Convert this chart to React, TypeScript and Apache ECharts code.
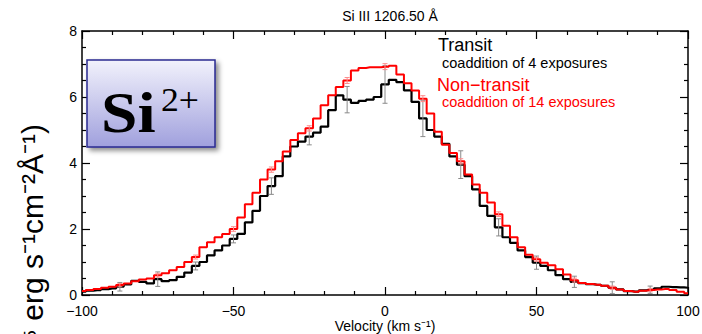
import React, { useEffect, useRef } from "react";
import * as echarts from "echarts";

// Velocity bin centres (km/s)
const velocity = [
  -100, -97.5, -95, -92.5, -90, -87.5, -85, -82.5, -80, -77.5,
  -75, -72.5, -70, -67.5, -65, -62.5, -60, -57.5, -55, -52.5,
  -50, -47.5, -45, -42.5, -40, -37.5, -35, -32.5, -30, -27.5,
  -25, -22.5, -20, -17.5, -15, -12.5, -10, -7.5, -5, -2.5,
  0, 2.5, 5, 7.5, 10, 12.5, 15, 17.5, 20, 22.5,
  25, 27.5, 30, 32.5, 35, 37.5, 40, 42.5, 45, 47.5,
  50, 52.5, 55, 57.5, 60, 62.5, 65, 67.5, 70, 72.5,
  75, 77.5, 80, 82.5, 85, 87.5, 90, 92.5, 95, 97.5, 100,
];

// Transit flux (black)
const transit = [
  0.1, 0.13, 0.15, 0.18, 0.2, 0.25, 0.32, 0.43, 0.4, 0.35,
  0.48, 0.42, 0.45, 0.55, 0.68, 0.88, 1.0, 1.2, 1.35, 1.5,
  1.7, 1.85, 2.2, 2.55, 3.0, 3.3, 3.6, 4.2, 4.5, 4.65,
  4.8, 4.92, 5.1, 5.6, 6.05, 5.92, 5.82, 5.88, 5.92, 6.0,
  6.38, 6.52, 6.45, 6.2, 5.85, 5.35, 5.0, 4.8, 4.58, 4.2,
  3.95, 3.6, 3.2, 2.7, 2.4, 2.05, 1.75, 1.58, 1.35, 1.15,
  0.98, 0.88, 0.75, 0.6, 0.48, 0.4, 0.36, 0.33, 0.31, 0.28,
  0.22, 0.17, 0.12, 0.1, 0.14, 0.16, 0.2, 0.25, 0.24, 0.23, 0.22,
];

// Non-transit flux (red)
const nonTransit = [
  0.12, 0.15, 0.18, 0.22, 0.25, 0.3, 0.35, 0.42, 0.47, 0.5,
  0.6, 0.66, 0.75, 0.85, 1.0, 1.15, 1.45, 1.6, 1.75, 1.85,
  2.0, 2.35, 2.75, 3.1, 3.5, 3.8, 4.05, 4.35, 4.7, 4.9,
  5.05, 5.35, 5.75, 6.05, 6.3, 6.5, 6.8, 6.88, 6.9, 6.9,
  6.92, 6.95, 6.68, 6.42, 6.2, 5.95, 5.5, 4.95, 4.55, 4.3,
  4.05, 3.65, 3.35, 3.1, 2.8, 2.45, 2.1, 1.75, 1.45, 1.22,
  1.08, 0.98, 0.9, 0.78, 0.62, 0.45, 0.36, 0.33, 0.31, 0.28,
  0.22, 0.17, 0.12, 0.1, 0.13, 0.15, 0.17, 0.18, 0.15, 0.1, 0.05,
];

// Error bars (half-widths) at selected bins
const errVelocity = [-87.5, -75, -62.5, -50, -37.5, -25, -12.5, 0, 12.5, 25, 37.5, 50, 62.5, 75, 87.5];
const transitErr = [0.13, 0.22, 0.12, 0.12, 0.25, 0.25, 0.4, 0.57, 0.55, 0.42, 0.26, 0.2, 0.17, 0.18, 0.11];
const nonTransitErr = [0.05, 0.06, 0.06, 0.07, 0.08, 0.08, 0.09, 0.09, 0.09, 0.08, 0.07, 0.06, 0.06, 0.05, 0.05];

const FONT = "'Liberation Sans', Arial, Helvetica, sans-serif";
const SERIF = "'Liberation Serif', 'Times New Roman', serif";

function fmt(v: number) {
  return String(v).replace("-", "\u2212");
}

function errData(values: number[], errs: number[]) {
  return errVelocity.map((v, i) => {
    const c = values[velocity.indexOf(v)];
    return [v, c - errs[i], c + errs[i]];
  });
}

function errSeries(data: number[][], color: string, cap: number, z: number) {
  return {
    type: "custom",
    xAxisIndex: 0,
    yAxisIndex: 0,
    z,
    encode: { x: 0, y: [1, 2] },
    data,
    renderItem: (_p: any, api: any) => {
      const x = api.value(0);
      const a = api.coord([x, api.value(1)]);
      const b = api.coord([x, api.value(2)]);
      const st = { stroke: color, lineWidth: 1 };
      return {
        type: "group",
        children: [
          { type: "line", shape: { x1: a[0], y1: a[1], x2: b[0], y2: b[1] }, style: st },
          { type: "line", shape: { x1: a[0] - cap, y1: a[1], x2: a[0] + cap, y2: a[1] }, style: st },
          { type: "line", shape: { x1: b[0] - cap, y1: b[1], x2: b[0] + cap, y2: b[1] }, style: st },
        ],
      };
    },
  };
}

export default function App() {
  const ref = useRef<HTMLDivElement>(null);
  useEffect(() => {
    const chart = echarts.init(ref.current!, null, { renderer: "svg" });
    const axisCommon = {
      axisLine: { show: true, onZero: false, lineStyle: { color: "#000", width: 1.5 } },
      axisTick: { show: true, inside: true, length: 8, lineStyle: { color: "#000", width: 1.2 } },
      minorTick: { show: true, length: 4, lineStyle: { color: "#000", width: 1.2 } },
      splitLine: { show: false },
    };
    const xBase = { type: "value", min: -100, max: 100, interval: 50, ...axisCommon };
    const yBase = { type: "value", min: 0, max: 8, interval: 2, ...axisCommon };
    chart.setOption({
      animation: false,
      backgroundColor: "#fff",
      title: {
        text: "Si III 1206.50 \u00c5",
        left: 385,
        top: 4,
        textAlign: "center",
        textStyle: { fontFamily: FONT, fontSize: 14, fontWeight: "normal", color: "#000" },
      },
      grid: { left: 82, right: 14, top: 31, bottom: 39, outerBoundsMode: "none", containLabel: false },
      xAxis: [
        {
          ...xBase,
          position: "bottom",
          minorTick: { ...axisCommon.minorTick, splitNumber: 5 },
          axisLabel: { color: "#000", fontFamily: FONT, fontSize: 14, margin: 9, formatter: fmt },
        },
        {
          ...xBase,
          position: "top",
          minorTick: { ...axisCommon.minorTick, splitNumber: 5 },
          axisLabel: { show: false },
        },
      ],
      yAxis: [
        {
          ...yBase,
          position: "left",
          minorTick: { ...axisCommon.minorTick, splitNumber: 4 },
          axisLabel: { color: "#000", fontFamily: FONT, fontSize: 14, margin: 5, formatter: fmt },
        },
        {
          ...yBase,
          position: "right",
          minorTick: { ...axisCommon.minorTick, splitNumber: 4 },
          axisLabel: { show: false },
        },
      ],
      series: [
        {
          type: "line",
          name: "Transit",
          step: "middle",
          showSymbol: false,
          xAxisIndex: 0,
          yAxisIndex: 0,
          z: 2,
          lineStyle: { color: "#000", width: 2.2 },
          data: velocity.map((v, i) => [v, transit[i]]),
        },
        errSeries(errData(transit, transitErr), "#8a8a8a", 2.5, 3),
        {
          type: "line",
          name: "Non-transit",
          step: "middle",
          showSymbol: false,
          xAxisIndex: 0,
          yAxisIndex: 0,
          z: 4,
          lineStyle: { color: "#ff0000", width: 2 },
          data: velocity.map((v, i) => [v, nonTransit[i]]),
        },
        errSeries(errData(nonTransit, nonTransitErr), "#ff8c8c", 2.5, 5),
      ],
      graphic: [
        {
          type: "rect",
          z: 100,
          shape: { x: 87, y: 60, width: 128, height: 87 },
          style: {
            fill: new echarts.graphic.LinearGradient(0, 0, 0, 1, [
              { offset: 0, color: "#f2f2fc" },
              { offset: 1, color: "#a0a0dd" },
            ]),
            stroke: "#2a2a90",
            lineWidth: 1.5,
            shadowBlur: 5,
            shadowOffsetX: 3,
            shadowOffsetY: 3,
            shadowColor: "rgba(0,0,0,0.45)",
          },
        },
        {
          type: "text",
          z: 101,
          x: 101,
          y: 112,
          scaleX: 1.13,
          style: {
            text: "Si",
            fill: "#000",
            font: `bold 58px ${SERIF}`,
            textAlign: "left",
            textVerticalAlign: "middle",
          },
        },
        {
          type: "text",
          z: 101,
          x: 161,
          y: 100,
          scaleX: 1.05,
          style: {
            text: "2+",
            fill: "#000",
            font: `34px ${SERIF}`,
            textAlign: "left",
            textVerticalAlign: "middle",
          },
        },
        {
          type: "text",
          x: 438,
          y: 44.5,
          style: { text: "Transit", fill: "#000", font: `18px ${FONT}`, textVerticalAlign: "middle" },
        },
        {
          type: "text",
          x: 442,
          y: 62.5,
          style: { text: "coaddition of 4 exposures", fill: "#000", font: `14.5px ${FONT}`, textVerticalAlign: "middle" },
        },
        {
          type: "text",
          x: 437,
          y: 85,
          style: { text: "Non\u2212transit", fill: "#ff0000", font: `18px ${FONT}`, textVerticalAlign: "middle" },
        },
        {
          type: "text",
          x: 442,
          y: 102,
          style: { text: "coaddition of 14 exposures", fill: "#ff0000", font: `14.5px ${FONT}`, textVerticalAlign: "middle" },
        },
        {
          type: "text",
          x: 385,
          y: 326,
          style: {
            text: "Velocity (km s\u207b\u00b9)",
            fill: "#000",
            font: `14px ${FONT}`,
            textAlign: "center",
            textVerticalAlign: "middle",
          },
        },
        {
          type: "text",
          x: 32,
          y: 124,
          rotation: Math.PI / 2,
          style: {
            text: "Flux (10\u207b\u00b9\u2075 erg s\u207b\u00b9cm\u207b\u00b2\u00c5\u207b\u00b9)",
            fill: "#000",
            font: `30px ${FONT}`,
            textAlign: "right",
            textVerticalAlign: "middle",
          },
        },
      ],
    });
    return () => chart.dispose();
  }, []);
  return <div ref={ref} style={{ position: "absolute", left: 0, top: 0, width: 702, height: 334 }} />;
}
